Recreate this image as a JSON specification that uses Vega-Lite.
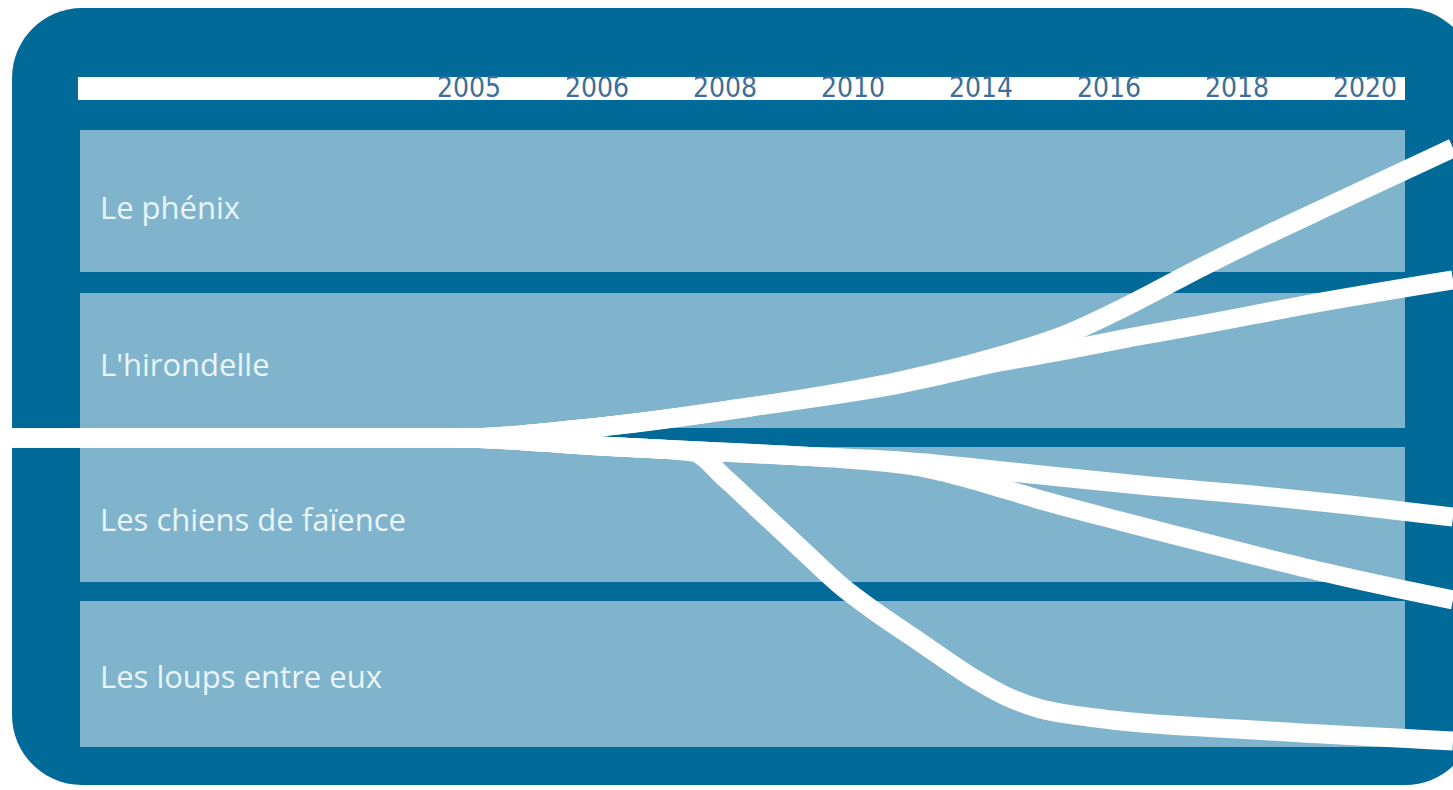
{
  "$schema": "https://vega.github.io/schema/vega-lite/v6.json",
  "width": 1453,
  "height": 790,
  "autosize": {"type": "none"},
  "padding": 0,
  "background": "#ffffff",
  "config": {"view": {"stroke": null}},
  "datasets": {
    "frame": [{"x1": -2.82, "x2": 8.609, "y1": 1.01, "y2": 99.37}],
    "header": [{"x1": -2.305, "x2": 8.0625, "y1": 9.75, "y2": 12.66}],
    "bands": [
      {"label": "Le phénix", "x1": -2.289, "x2": 8.0625, "y1": 16.46, "y2": 34.43, "lx": -2.133, "ly": 27.72},
      {"label": "L'hirondelle", "x1": -2.289, "x2": 8.0625, "y1": 37.09, "y2": 54.18, "lx": -2.133, "ly": 47.59},
      {"label": "Les chiens de faïence", "x1": -2.289, "x2": 8.0625, "y1": 56.58, "y2": 73.67, "lx": -2.133, "ly": 67.22},
      {"label": "Les loups entre eux", "x1": -2.289, "x2": 8.0625, "y1": 76.08, "y2": 94.56, "lx": -2.133, "ly": 87.09}
    ],
    "years": [
      {"year": "2005", "slot": 1},
      {"year": "2006", "slot": 2},
      {"year": "2008", "slot": 3},
      {"year": "2010", "slot": 4},
      {"year": "2014", "slot": 5},
      {"year": "2016", "slot": 6},
      {"year": "2018", "slot": 7},
      {"year": "2020", "slot": 8}
    ],
    "lines": [
      {"s": "A", "t": -2.914, "p": 55.44}, {"s": "A", "t": 0.641, "p": 55.44}, {"s": "A", "t": 1.773, "p": 54.05}, {"s": "A", "t": 2.945, "p": 51.52}, {"s": "A", "t": 4.117, "p": 48.23}, {"s": "A", "t": 4.898, "p": 45.06}, {"s": "A", "t": 5.422, "p": 42.28}, {"s": "A", "t": 5.938, "p": 38.35}, {"s": "A", "t": 6.461, "p": 33.92}, {"s": "A", "t": 6.984, "p": 29.75}, {"s": "A", "t": 7.5, "p": 25.82}, {"s": "A", "t": 8.4375, "p": 18.73},
      {"s": "B", "t": -2.914, "p": 55.44}, {"s": "B", "t": 0.641, "p": 55.44}, {"s": "B", "t": 1.773, "p": 54.05}, {"s": "B", "t": 2.945, "p": 51.52}, {"s": "B", "t": 4.117, "p": 48.61}, {"s": "B", "t": 4.898, "p": 45.82}, {"s": "B", "t": 5.422, "p": 44.3}, {"s": "B", "t": 5.938, "p": 42.66}, {"s": "B", "t": 6.461, "p": 41.14}, {"s": "B", "t": 7.242, "p": 38.73}, {"s": "B", "t": 8.4375, "p": 35.44},
      {"s": "C", "t": -2.914, "p": 55.44}, {"s": "C", "t": 0.641, "p": 55.44}, {"s": "C", "t": 1.773, "p": 56.46}, {"s": "C", "t": 2.555, "p": 57.09}, {"s": "C", "t": 3.336, "p": 57.72}, {"s": "C", "t": 4.117, "p": 58.35}, {"s": "C", "t": 5.219, "p": 60.13}, {"s": "C", "t": 6.07, "p": 61.52}, {"s": "C", "t": 6.875, "p": 62.66}, {"s": "C", "t": 7.633, "p": 63.92}, {"s": "C", "t": 8.4375, "p": 65.44},
      {"s": "D", "t": -2.914, "p": 55.44}, {"s": "D", "t": 0.641, "p": 55.44}, {"s": "D", "t": 1.773, "p": 56.46}, {"s": "D", "t": 2.555, "p": 57.09}, {"s": "D", "t": 3.336, "p": 57.72}, {"s": "D", "t": 3.805, "p": 58.23}, {"s": "D", "t": 4.273, "p": 59.11}, {"s": "D", "t": 4.664, "p": 60.63}, {"s": "D", "t": 5.219, "p": 63.29}, {"s": "D", "t": 5.836, "p": 65.95}, {"s": "D", "t": 6.32, "p": 67.97}, {"s": "D", "t": 6.875, "p": 70.25}, {"s": "D", "t": 7.422, "p": 72.41}, {"s": "D", "t": 8.023, "p": 74.56}, {"s": "D", "t": 8.4375, "p": 75.95},
      {"s": "E", "t": -2.914, "p": 55.44}, {"s": "E", "t": 0.641, "p": 55.44}, {"s": "E", "t": 1.773, "p": 56.46}, {"s": "E", "t": 2.5, "p": 57.22}, {"s": "E", "t": 2.75, "p": 60.51}, {"s": "E", "t": 3.0, "p": 64.3}, {"s": "E", "t": 3.336, "p": 69.37}, {"s": "E", "t": 3.648, "p": 74.05}, {"s": "E", "t": 3.961, "p": 77.85}, {"s": "E", "t": 4.273, "p": 81.27}, {"s": "E", "t": 4.664, "p": 85.57}, {"s": "E", "t": 4.977, "p": 88.35}, {"s": "E", "t": 5.219, "p": 89.75}, {"s": "E", "t": 5.523, "p": 90.63}, {"s": "E", "t": 5.773, "p": 91.14}, {"s": "E", "t": 6.875, "p": 92.41}, {"s": "E", "t": 8.4375, "p": 93.8}
    ]
  },
  "layer": [
    {
      "data": {"name": "frame"},
      "mark": {"type": "rect", "color": "#026a98", "cornerRadius": 70},
      "encoding": {
        "x": {"field": "x1", "type": "quantitative", "axis": null, "scale": {"domain": [-2.914, 8.4375], "nice": false, "zero": false}},
        "x2": {"field": "x2"},
        "y": {"field": "y1", "type": "quantitative", "axis": null, "scale": {"domain": [0, 100], "reverse": true, "nice": false, "zero": false}},
        "y2": {"field": "y2"}
      }
    },
    {
      "data": {"name": "header"},
      "mark": {"type": "rect", "color": "#ffffff"},
      "encoding": {
        "x": {"field": "x1", "type": "quantitative", "axis": null, "scale": {"domain": [-2.914, 8.4375], "nice": false, "zero": false}},
        "x2": {"field": "x2"},
        "y": {"field": "y1", "type": "quantitative", "axis": null, "scale": {"domain": [0, 100], "reverse": true, "nice": false, "zero": false}},
        "y2": {"field": "y2"}
      }
    },
    {
      "data": {"name": "bands"},
      "mark": {"type": "rect", "color": "#80b4cc"},
      "encoding": {
        "x": {"field": "x1", "type": "quantitative", "axis": null, "scale": {"domain": [-2.914, 8.4375], "nice": false, "zero": false}},
        "x2": {"field": "x2"},
        "y": {"field": "y1", "type": "quantitative", "axis": null, "scale": {"domain": [0, 100], "reverse": true, "nice": false, "zero": false}},
        "y2": {"field": "y2"}
      }
    },
    {
      "data": {"name": "years"},
      "mark": {"type": "text", "align": "right", "baseline": "alphabetic", "font": "DejaVu Sans Condensed, Liberation Sans Narrow, sans-serif", "fontSize": 28, "color": "#3a7099"},
      "encoding": {
        "x": {"field": "slot", "type": "quantitative", "axis": null, "scale": {"domain": [-2.914, 8.4375], "nice": false, "zero": false}},
        "y": {"datum": 12.34, "type": "quantitative", "axis": null, "scale": {"domain": [0, 100], "reverse": true, "nice": false, "zero": false}},
        "text": {"field": "year"}
      }
    },
    {
      "data": {"name": "lines"},
      "mark": {"type": "line", "color": "#ffffff", "strokeWidth": 19, "interpolate": "monotone", "strokeCap": "butt"},
      "encoding": {
        "x": {"field": "t", "type": "quantitative", "axis": null, "scale": {"domain": [-2.914, 8.4375], "nice": false, "zero": false}},
        "y": {"field": "p", "type": "quantitative", "axis": null, "scale": {"domain": [0, 100], "reverse": true, "nice": false, "zero": false}},
        "detail": {"field": "s"}
      }
    },
    {
      "data": {"name": "bands"},
      "mark": {"type": "text", "align": "left", "baseline": "alphabetic", "font": "Open Sans", "fontSize": 31, "color": "#eaf5fa"},
      "encoding": {
        "x": {"field": "lx", "type": "quantitative", "axis": null, "scale": {"domain": [-2.914, 8.4375], "nice": false, "zero": false}},
        "y": {"field": "ly", "type": "quantitative", "axis": null, "scale": {"domain": [0, 100], "reverse": true, "nice": false, "zero": false}},
        "text": {"field": "label"}
      }
    }
  ]
}
